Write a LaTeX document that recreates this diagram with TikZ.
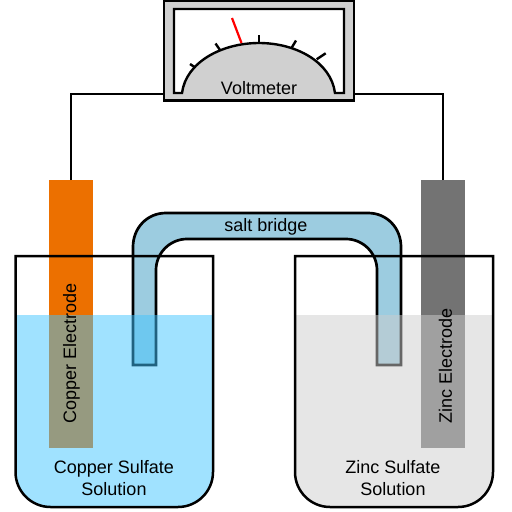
\documentclass[tikz,border=0pt]{standalone}
\usepackage{fontspec}
\setmainfont{Liberation Sans}
\definecolor{cuel}{HTML}{EC7000}
\definecolor{znel}{HTML}{737373}
\definecolor{panel}{HTML}{D0D0D0}
\definecolor{bridgefill}{HTML}{9CCCE0}
\definecolor{culiq}{RGB}{65,197,255}
\definecolor{znliq}{HTML}{CDCDCD}
\tikzset{
  lbl/.style={font=\fontsize{18}{22}\selectfont,text=black,inner sep=0pt,align=center},
  electrode/.style={draw=none,minimum width=44pt,minimum height=268pt,inner sep=0pt,anchor=north},
  wire/.style={draw=black,line width=2.2pt},
  outline/.style={draw=black,line width=2.5pt},
  tick/.style={draw=black,line width=2.4pt},
}
\begin{document}
\begin{tikzpicture}[x=1pt,y=-1pt]
\useasboundingbox (0,0) rectangle (512,512);
% electrodes
\node[electrode,fill=cuel] (cu) at (71,180) {};
\node[electrode,fill=znel] (zn) at (443,180) {};
% voltmeter
\node[draw=black,fill=panel,line width=2.4pt,minimum width=190pt,minimum height=100pt,inner sep=0pt] (meter) at (259,50.5) {};
\coordinate (wl) at (meter.west |- 0,94);
\coordinate (wr) at (meter.east |- 0,94);
\draw[wire] (cu.north) -- (cu.north |- wl) -- (wl);
\draw[wire] (zn.north) -- (zn.north |- wr) -- (wr);
\draw[outline,line width=2.4pt,fill=white] (174,9) -- (344,9) -- (344,93) -- (335,93)
  .. controls (331,62) and (296,43) .. (259,43)
  .. controls (222,43) and (186,62) .. (182,93) -- (174,93) -- cycle;
\draw[tick] (190,64) -- (194.5,67);
\draw[tick] (215.5,43.5) -- (220,50);
\draw[tick] (259,35) -- (259,43);
\draw[tick] (296,40.5) -- (291.5,48);
\draw[tick] (325.7,53.3) -- (316.7,59.3);
\draw[red,line width=2.2pt] (232,18) -- (241.5,43);
\node[lbl] (vm) at (259,88) {Voltmeter};
% salt bridge
\draw[outline,line width=2.7pt,fill=bridgefill] (133,365) -- (133,247)
  .. controls (133,228) and (147,213) .. (166,213) -- (368,213)
  .. controls (387,213) and (401,228) .. (401,247) -- (401,365) -- (377,365) -- (377,270)
  .. controls (377,253) and (363,239) .. (346,239) -- (187,239)
  .. controls (170,239) and (156,253) .. (156,270) -- (156,365) -- cycle;
\node[lbl] (sb) at (266,227) {salt bridge};
% liquids
\fill[culiq,fill opacity=.5] (15.5,315) -- (213,315) -- (213,472)
  .. controls (213,491.3) and (197.3,507) .. (178,507) -- (50.5,507)
  .. controls (31.2,507) and (15.5,491.3) .. (15.5,472) -- cycle;
\fill[znliq,fill opacity=.5] (295,315) -- (493,315) -- (493,472)
  .. controls (493,491.3) and (477.3,507) .. (458,507) -- (330,507)
  .. controls (310.7,507) and (295,491.3) .. (295,472) -- cycle;
% beakers
\draw[outline] (15.5,256) -- (213,256) -- (213,472)
  .. controls (213,491.3) and (197.3,507) .. (178,507) -- (50.5,507)
  .. controls (31.2,507) and (15.5,491.3) .. (15.5,472) -- cycle;
\draw[outline] (295,256) -- (493,256) -- (493,472)
  .. controls (493,491.3) and (477.3,507) .. (458,507) -- (330,507)
  .. controls (310.7,507) and (295,491.3) .. (295,472) -- cycle;
% labels
\node[lbl,rotate=90] (cul) at (71.5,353) {Copper Electrode};
\node[lbl,rotate=90] (znl) at (445.5,366) {Zinc Electrode};
\node[lbl] (cus) at (114,478) {Copper Sulfate\\Solution};
\node[lbl] (zns) at (393,478) {Zinc Sulfate\\Solution};
\end{tikzpicture}
\end{document}
